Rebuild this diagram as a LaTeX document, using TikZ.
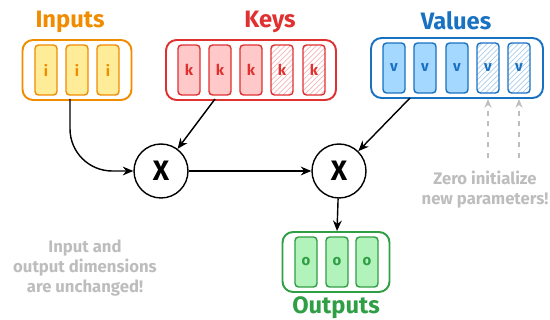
\documentclass[tikz,border=0pt]{standalone}
\usepackage{fontspec}
\setmainfont{Fira Sans}
\usetikzlibrary{arrows.meta,patterns}
\definecolor{inpcol}{HTML}{F08C00}
\definecolor{inpfill}{HTML}{FFEC99}
\definecolor{keycol}{HTML}{E03131}
\definecolor{keyfill}{HTML}{FFC9C9}
\definecolor{valcol}{HTML}{1971C2}
\definecolor{valfill}{HTML}{A5D8FF}
\definecolor{outcol}{HTML}{2F9E44}
\definecolor{outfill}{HTML}{B2F2BB}
\definecolor{notecol}{HTML}{BDBDBD}
\tikzstyle{group} = [draw, rectangle, rounded corners=6pt, line width=1.1pt, minimum height=1.2cm]
\tikzstyle{cell} = [draw, rectangle, rounded corners=2pt, line width=0.8pt, minimum width=0.44cm, minimum height=1cm, inner sep=0pt, font=\bfseries\fontsize{8.5}{10}\selectfont]
\tikzstyle{hatch} = [cell, pattern=north east lines]
\tikzstyle{title} = [font=\bfseries\fontsize{13.5}{15}\selectfont]
\tikzstyle{mult} = [draw, circle, line width=0.8pt, minimum size=1.08cm, inner sep=0pt, font=\bfseries\fontsize{16}{18}\selectfont]
\tikzstyle{arrow} = [-{Stealth[length=6pt,width=5pt]}, line width=0.8pt]
\tikzstyle{dasharrow} = [-{Stealth[length=5pt,width=4pt]}, line width=0.8pt, notecol, dashed]
\tikzstyle{note} = [align=center, text=notecol, font=\bfseries\fontsize{9.5}{11.3}\selectfont]

\begin{document}
\begin{tikzpicture}[x=0.02cm, y=-0.02cm]
				\useasboundingbox (0,0) rectangle (550,320);
				% groups
				\node (inp) [group, inpcol, minimum width=2.18cm] at (77,70) {};
				\node (keys) [group, keycol, minimum width=3.4cm] at (251,70) {};
				\node (vals) [group, valcol, minimum width=3.44cm] at (457,68) {};
				\node (outs) [group, outcol, minimum width=2.14cm] at (336,262) {};
				\node (tinp) [title, text=inpcol] at (70,22) {Inputs};
				\node (tkeys) [title, text=keycol] at (270,22) {Keys};
				\node (tvals) [title, text=valcol] at (456,21) {Values};
				\node (touts) [title, text=outcol] at (336,308) {Outputs};
				% cells
				\node (i1) [cell, draw=inpcol, fill=inpfill, text=inpcol] at (46,70) {i};
				\node (i2) [cell, draw=inpcol, fill=inpfill, text=inpcol] at (77,70) {i};
				\node (i3) [cell, draw=inpcol, fill=inpfill, text=inpcol] at (108,70) {i};
				\node (k1) [cell, draw=keycol, fill=keyfill, text=keycol] at (189,70) {k};
				\node (k2) [cell, draw=keycol, fill=keyfill, text=keycol] at (220,70) {k};
				\node (k3) [cell, draw=keycol, fill=keyfill, text=keycol] at (251,70) {k};
				\node (k4) [hatch, draw=keycol, pattern color=keycol!35, text=keycol] at (282,70) {k};
				\node (k5) [hatch, draw=keycol, pattern color=keycol!35, text=keycol] at (314,70) {k};
				\node (v1) [cell, draw=valcol, fill=valfill, text=valcol] at (394,68) {v};
				\node (v2) [cell, draw=valcol, fill=valfill, text=valcol] at (425,68) {v};
				\node (v3) [cell, draw=valcol, fill=valfill, text=valcol] at (457,68) {v};
				\node (v4) [hatch, draw=valcol, pattern color=valcol!35, text=valcol] at (488,68) {v};
				\node (v5) [hatch, draw=valcol, pattern color=valcol!35, text=valcol] at (519,68) {v};
				\node (o1) [cell, draw=outcol, fill=outfill, text=outcol] at (306,262) {o};
				\node (o2) [cell, draw=outcol, fill=outfill, text=outcol] at (337,262) {o};
				\node (o3) [cell, draw=outcol, fill=outfill, text=outcol] at (367,262) {o};
				% products
				\node (mul1) [mult] at (161,171) {X};
				\node (mul2) [mult] at (339,171) {X};
				\coordinate (iout) at (70,99);
				\coordinate (kout) at (215,99);
				\coordinate (vout) at (410,98);
				\coordinate (z1) at (488,158);
				\coordinate (z2) at (519,158);
				\draw [arrow, rounded corners=24pt] (iout) |- (mul1.west);
				\draw [arrow] (kout) -- (mul1);
				\draw [arrow] (mul1) -- (mul2);
				\draw [arrow] (vout) -- (mul2);
				\draw [arrow] (mul2) -- (outs);
				\draw [dasharrow] (z1) -- (z1 |- vals.south);
				\draw [dasharrow] (z2) -- (z2 |- vals.south);
				% notes
				\node (nzero) [note] at (485,190) {Zero initialize\\new parameters!};
				\node (ndim) [note] at (85,268) {Input and\\output dimensions\\are unchanged!};
			\end{tikzpicture}
\end{document}
